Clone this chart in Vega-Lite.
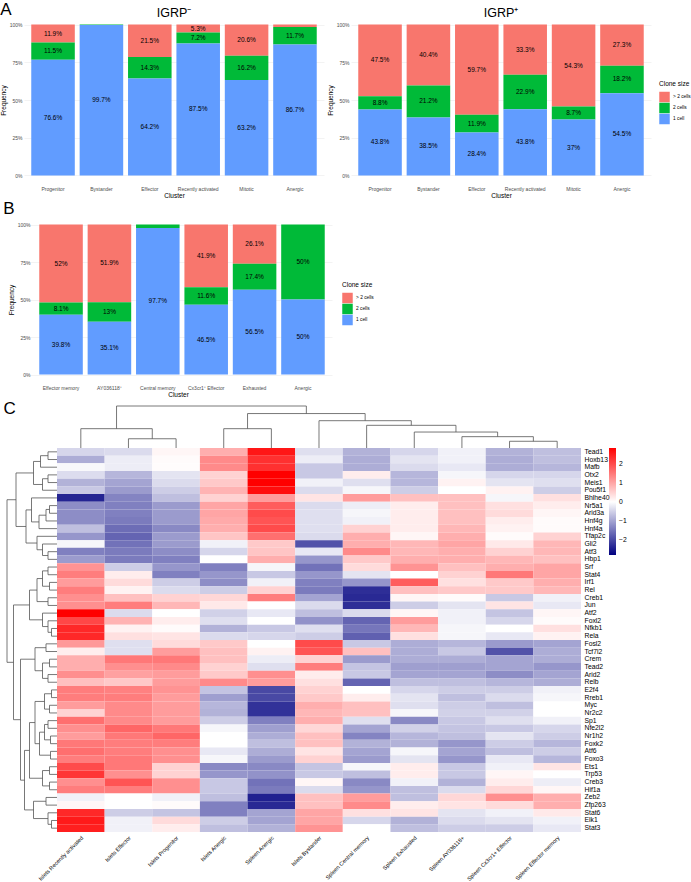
{
"$schema": "https://vega.github.io/schema/vega-lite/v6.json",
"padding": {"left": 0, "top": 0, "right": 2, "bottom": 0},
"config": {"font": "Liberation Sans", "view": {"stroke": null}, "title": {"fontWeight": "normal", "color": "#000"}, "axis": {"labelColor": "#000", "titleColor": "#000"}, "legend": {"labelColor": "#000", "titleColor": "#000"}},
"datasets": {
"clones": [
{"panel":"IGRP-","cluster":"Progenitor","size":"> 2 cells","freq":0.119},
{"panel":"IGRP-","cluster":"Progenitor","size":"2 cells","freq":0.115},
{"panel":"IGRP-","cluster":"Progenitor","size":"1 cell","freq":0.766},
{"panel":"IGRP-","cluster":"Bystander","size":"> 2 cells","freq":0.0},
{"panel":"IGRP-","cluster":"Bystander","size":"2 cells","freq":0.003},
{"panel":"IGRP-","cluster":"Bystander","size":"1 cell","freq":0.997},
{"panel":"IGRP-","cluster":"Effector","size":"> 2 cells","freq":0.215},
{"panel":"IGRP-","cluster":"Effector","size":"2 cells","freq":0.143},
{"panel":"IGRP-","cluster":"Effector","size":"1 cell","freq":0.642},
{"panel":"IGRP-","cluster":"Recently activated","size":"> 2 cells","freq":0.053},
{"panel":"IGRP-","cluster":"Recently activated","size":"2 cells","freq":0.072},
{"panel":"IGRP-","cluster":"Recently activated","size":"1 cell","freq":0.875},
{"panel":"IGRP-","cluster":"Mitotic","size":"> 2 cells","freq":0.206},
{"panel":"IGRP-","cluster":"Mitotic","size":"2 cells","freq":0.162},
{"panel":"IGRP-","cluster":"Mitotic","size":"1 cell","freq":0.632},
{"panel":"IGRP-","cluster":"Anergic","size":"> 2 cells","freq":0.016},
{"panel":"IGRP-","cluster":"Anergic","size":"2 cells","freq":0.117},
{"panel":"IGRP-","cluster":"Anergic","size":"1 cell","freq":0.867},
{"panel":"IGRP+","cluster":"Progenitor","size":"> 2 cells","freq":0.475},
{"panel":"IGRP+","cluster":"Progenitor","size":"2 cells","freq":0.088},
{"panel":"IGRP+","cluster":"Progenitor","size":"1 cell","freq":0.438},
{"panel":"IGRP+","cluster":"Bystander","size":"> 2 cells","freq":0.404},
{"panel":"IGRP+","cluster":"Bystander","size":"2 cells","freq":0.212},
{"panel":"IGRP+","cluster":"Bystander","size":"1 cell","freq":0.385},
{"panel":"IGRP+","cluster":"Effector","size":"> 2 cells","freq":0.597},
{"panel":"IGRP+","cluster":"Effector","size":"2 cells","freq":0.119},
{"panel":"IGRP+","cluster":"Effector","size":"1 cell","freq":0.284},
{"panel":"IGRP+","cluster":"Recently activated","size":"> 2 cells","freq":0.333},
{"panel":"IGRP+","cluster":"Recently activated","size":"2 cells","freq":0.229},
{"panel":"IGRP+","cluster":"Recently activated","size":"1 cell","freq":0.438},
{"panel":"IGRP+","cluster":"Mitotic","size":"> 2 cells","freq":0.543},
{"panel":"IGRP+","cluster":"Mitotic","size":"2 cells","freq":0.087},
{"panel":"IGRP+","cluster":"Mitotic","size":"1 cell","freq":0.37},
{"panel":"IGRP+","cluster":"Anergic","size":"> 2 cells","freq":0.273},
{"panel":"IGRP+","cluster":"Anergic","size":"2 cells","freq":0.182},
{"panel":"IGRP+","cluster":"Anergic","size":"1 cell","freq":0.545},
{"panel":"B","cluster":"Effector memory","size":"> 2 cells","freq":0.52},
{"panel":"B","cluster":"Effector memory","size":"2 cells","freq":0.081},
{"panel":"B","cluster":"Effector memory","size":"1 cell","freq":0.398},
{"panel":"B","cluster":"AY036118⁺","size":"> 2 cells","freq":0.519},
{"panel":"B","cluster":"AY036118⁺","size":"2 cells","freq":0.13},
{"panel":"B","cluster":"AY036118⁺","size":"1 cell","freq":0.351},
{"panel":"B","cluster":"Central memory","size":"> 2 cells","freq":0.0},
{"panel":"B","cluster":"Central memory","size":"2 cells","freq":0.023},
{"panel":"B","cluster":"Central memory","size":"1 cell","freq":0.977},
{"panel":"B","cluster":"Cx3cr1⁺ Effector","size":"> 2 cells","freq":0.419},
{"panel":"B","cluster":"Cx3cr1⁺ Effector","size":"2 cells","freq":0.116},
{"panel":"B","cluster":"Cx3cr1⁺ Effector","size":"1 cell","freq":0.465},
{"panel":"B","cluster":"Exhausted","size":"> 2 cells","freq":0.261},
{"panel":"B","cluster":"Exhausted","size":"2 cells","freq":0.174},
{"panel":"B","cluster":"Exhausted","size":"1 cell","freq":0.565},
{"panel":"B","cluster":"Anergic","size":"> 2 cells","freq":0.0},
{"panel":"B","cluster":"Anergic","size":"2 cells","freq":0.5},
{"panel":"B","cluster":"Anergic","size":"1 cell","freq":0.5}
],
"heat": [
{"g":"Tead1","Islets Recently activated":-0.45,"Islets Effector":-0.4,"Islets Progenitor":0.1,"Islets Anergic":0.9,"Spleen Anergic":2.6,"Islets Bystander":-0.35,"Spleen Central memory":-0.85,"Spleen Exhausted":-0.45,"Spleen AY036118+":-0.15,"Spleen Cx3cr1+ Effector":-0.85,"Spleen Effector memory":-0.7},
{"g":"Hoxb13","Islets Recently activated":-0.9,"Islets Effector":-0.2,"Islets Progenitor":0.05,"Islets Anergic":1.3,"Spleen Anergic":2.3,"Islets Bystander":-0.2,"Spleen Central memory":-0.9,"Spleen Exhausted":-0.3,"Spleen AY036118+":-0.15,"Spleen Cx3cr1+ Effector":-0.9,"Spleen Effector memory":-0.7},
{"g":"Mafb","Islets Recently activated":-0.08,"Islets Effector":-0.2,"Islets Progenitor":0.03,"Islets Anergic":1.3,"Spleen Anergic":2.3,"Islets Bystander":-0.6,"Spleen Central memory":-0.9,"Spleen Exhausted":-0.4,"Spleen AY036118+":-0.25,"Spleen Cx3cr1+ Effector":-0.9,"Spleen Effector memory":-0.8},
{"g":"Otx2","Islets Recently activated":-0.38,"Islets Effector":-0.8,"Islets Progenitor":-0.3,"Islets Anergic":0.5,"Spleen Anergic":2.85,"Islets Bystander":-0.6,"Spleen Central memory":0.2,"Spleen Exhausted":-0.8,"Spleen AY036118+":-0.1,"Spleen Cx3cr1+ Effector":-0.45,"Spleen Effector memory":-0.45},
{"g":"Meis1","Islets Recently activated":-0.85,"Islets Effector":-1.0,"Islets Progenitor":-0.4,"Islets Anergic":0.6,"Spleen Anergic":2.85,"Islets Bystander":-0.15,"Spleen Central memory":-0.35,"Spleen Exhausted":-0.8,"Spleen AY036118+":0.15,"Spleen Cx3cr1+ Effector":-0.3,"Spleen Effector memory":-0.35},
{"g":"Pou5f1","Islets Recently activated":-0.6,"Islets Effector":-1.1,"Islets Progenitor":-0.55,"Islets Anergic":0.85,"Spleen Anergic":2.7,"Islets Bystander":-0.4,"Spleen Central memory":-0.1,"Spleen Exhausted":-0.55,"Spleen AY036118+":0.0,"Spleen Cx3cr1+ Effector":0.15,"Spleen Effector memory":-0.55},
{"g":"Bhlhe40","Islets Recently activated":-2.4,"Islets Effector":-1.35,"Islets Progenitor":-0.7,"Islets Anergic":0.5,"Spleen Anergic":1.1,"Islets Bystander":0.3,"Spleen Central memory":1.1,"Spleen Exhausted":0.7,"Spleen AY036118+":0.7,"Spleen Cx3cr1+ Effector":-0.1,"Spleen Effector memory":0.35},
{"g":"Nr5a1","Islets Recently activated":-1.25,"Islets Effector":-1.4,"Islets Progenitor":-1.1,"Islets Anergic":1.0,"Spleen Anergic":1.8,"Islets Bystander":-0.4,"Spleen Central memory":-0.2,"Spleen Exhausted":0.2,"Spleen AY036118+":0.7,"Spleen Cx3cr1+ Effector":0.35,"Spleen Effector memory":0.2},
{"g":"Arid3a","Islets Recently activated":-1.25,"Islets Effector":-1.4,"Islets Progenitor":-1.1,"Islets Anergic":1.0,"Spleen Anergic":2.0,"Islets Bystander":-0.35,"Spleen Central memory":-0.1,"Spleen Exhausted":0.2,"Spleen AY036118+":0.7,"Spleen Cx3cr1+ Effector":0.4,"Spleen Effector memory":0.1},
{"g":"Hnf4g","Islets Recently activated":-1.25,"Islets Effector":-1.45,"Islets Progenitor":-1.1,"Islets Anergic":0.95,"Spleen Anergic":1.9,"Islets Bystander":-0.35,"Spleen Central memory":-0.15,"Spleen Exhausted":0.2,"Spleen AY036118+":0.7,"Spleen Cx3cr1+ Effector":0.2,"Spleen Effector memory":0.05},
{"g":"Hnf4a","Islets Recently activated":-0.7,"Islets Effector":-1.6,"Islets Progenitor":-1.3,"Islets Anergic":0.9,"Spleen Anergic":2.0,"Islets Bystander":-0.35,"Spleen Central memory":0.5,"Spleen Exhausted":0.2,"Spleen AY036118+":0.8,"Spleen Cx3cr1+ Effector":0.15,"Spleen Effector memory":0.05},
{"g":"Tfap2c","Islets Recently activated":-1.15,"Islets Effector":-1.7,"Islets Progenitor":-1.1,"Islets Anergic":0.65,"Spleen Anergic":1.6,"Islets Bystander":-0.4,"Spleen Central memory":0.9,"Spleen Exhausted":0.1,"Spleen AY036118+":0.9,"Spleen Cx3cr1+ Effector":0.05,"Spleen Effector memory":0.5},
{"g":"Gli2","Islets Recently activated":-0.1,"Islets Effector":-1.55,"Islets Progenitor":-1.1,"Islets Anergic":-0.15,"Spleen Anergic":0.6,"Islets Bystander":-1.9,"Spleen Central memory":0.9,"Spleen Exhausted":0.8,"Spleen AY036118+":1.0,"Spleen Cx3cr1+ Effector":0.25,"Spleen Effector memory":0.8},
{"g":"Atf3","Islets Recently activated":-1.4,"Islets Effector":-1.45,"Islets Progenitor":-1.25,"Islets Anergic":-0.45,"Spleen Anergic":0.65,"Islets Bystander":-0.25,"Spleen Central memory":1.3,"Spleen Exhausted":0.8,"Spleen AY036118+":0.9,"Spleen Cx3cr1+ Effector":0.5,"Spleen Effector memory":0.8},
{"g":"Hbp1","Islets Recently activated":-1.1,"Islets Effector":-1.45,"Islets Progenitor":-1.4,"Islets Anergic":0.0,"Spleen Anergic":0.9,"Islets Bystander":-1.15,"Spleen Central memory":0.6,"Spleen Exhausted":0.9,"Spleen AY036118+":0.9,"Spleen Cx3cr1+ Effector":0.8,"Spleen Effector memory":0.7},
{"g":"Srf","Islets Recently activated":1.2,"Islets Effector":-0.55,"Islets Progenitor":-1.15,"Islets Anergic":-1.4,"Spleen Anergic":-0.1,"Islets Bystander":-1.55,"Spleen Central memory":0.4,"Spleen Exhausted":1.2,"Spleen AY036118+":0.7,"Spleen Cx3cr1+ Effector":0.9,"Spleen Effector memory":1.0},
{"g":"Stat4","Islets Recently activated":1.45,"Islets Effector":0.2,"Islets Progenitor":-1.4,"Islets Anergic":-1.15,"Spleen Anergic":-0.6,"Islets Bystander":-1.15,"Spleen Central memory":-0.3,"Spleen Exhausted":0.0,"Spleen AY036118+":0.5,"Spleen Cx3cr1+ Effector":1.5,"Spleen Effector memory":1.0},
{"g":"Irf1","Islets Recently activated":1.1,"Islets Effector":0.4,"Islets Progenitor":-0.55,"Islets Anergic":-1.25,"Spleen Anergic":-0.15,"Islets Bystander":-1.4,"Spleen Central memory":-1.15,"Spleen Exhausted":1.8,"Spleen AY036118+":0.35,"Spleen Cx3cr1+ Effector":0.6,"Spleen Effector memory":0.9},
{"g":"Rel","Islets Recently activated":1.45,"Islets Effector":0.15,"Islets Progenitor":-0.4,"Islets Anergic":-0.55,"Spleen Anergic":0.5,"Islets Bystander":-1.45,"Spleen Central memory":-2.3,"Spleen Exhausted":0.7,"Spleen AY036118+":0.6,"Spleen Cx3cr1+ Effector":0.6,"Spleen Effector memory":0.8},
{"g":"Creb1","Islets Recently activated":1.25,"Islets Effector":0.7,"Islets Progenitor":0.5,"Islets Anergic":0.45,"Spleen Anergic":1.45,"Islets Bystander":-1.0,"Spleen Central memory":-2.35,"Spleen Exhausted":0.1,"Spleen AY036118+":0.05,"Spleen Cx3cr1+ Effector":-0.6,"Spleen Effector memory":-0.15},
{"g":"Jun","Islets Recently activated":1.25,"Islets Effector":1.45,"Islets Progenitor":0.8,"Islets Anergic":0.25,"Spleen Anergic":0.0,"Islets Bystander":-0.4,"Spleen Central memory":-2.3,"Spleen Exhausted":-0.55,"Spleen AY036118+":-0.3,"Spleen Cx3cr1+ Effector":0.3,"Spleen Effector memory":-0.25},
{"g":"Atf2","Islets Recently activated":2.85,"Islets Effector":-0.4,"Islets Progenitor":0.0,"Islets Anergic":-0.5,"Spleen Anergic":-0.25,"Islets Bystander":-0.7,"Spleen Central memory":-0.4,"Spleen Exhausted":0.1,"Spleen AY036118+":-0.15,"Spleen Cx3cr1+ Effector":-0.65,"Spleen Effector memory":0.1},
{"g":"Foxl2","Islets Recently activated":2.05,"Islets Effector":0.85,"Islets Progenitor":0.2,"Islets Anergic":-0.35,"Spleen Anergic":0.0,"Islets Bystander":-1.2,"Spleen Central memory":-1.7,"Spleen Exhausted":1.1,"Spleen AY036118+":-0.15,"Spleen Cx3cr1+ Effector":-0.45,"Spleen Effector memory":0.05},
{"g":"Nfkb1","Islets Recently activated":2.4,"Islets Effector":0.15,"Islets Progenitor":0.05,"Islets Anergic":-0.85,"Spleen Anergic":-0.6,"Islets Bystander":-0.35,"Spleen Central memory":-1.5,"Spleen Exhausted":0.8,"Spleen AY036118+":-0.1,"Spleen Cx3cr1+ Effector":0.0,"Spleen Effector memory":0.35},
{"g":"Rela","Islets Recently activated":2.4,"Islets Effector":0.35,"Islets Progenitor":0.3,"Islets Anergic":-0.4,"Spleen Anergic":-0.45,"Islets Bystander":-0.55,"Spleen Central memory":-1.75,"Spleen Exhausted":0.35,"Spleen AY036118+":-0.1,"Spleen Cx3cr1+ Effector":-0.25,"Spleen Effector memory":0.15},
{"g":"Fosl2","Islets Recently activated":1.15,"Islets Effector":-0.35,"Islets Progenitor":0.4,"Islets Anergic":0.6,"Spleen Anergic":0.0,"Islets Bystander":2.0,"Spleen Central memory":-0.6,"Spleen Exhausted":-0.9,"Spleen AY036118+":-0.8,"Spleen Cx3cr1+ Effector":-1.1,"Spleen Effector memory":-1.0},
{"g":"Tcf7l2","Islets Recently activated":0.2,"Islets Effector":-0.35,"Islets Progenitor":1.1,"Islets Anergic":0.7,"Spleen Anergic":0.15,"Islets Bystander":1.9,"Spleen Central memory":0.7,"Spleen Exhausted":-0.9,"Spleen AY036118+":-0.6,"Spleen Cx3cr1+ Effector":-1.9,"Spleen Effector memory":-0.9},
{"g":"Crem","Islets Recently activated":0.9,"Islets Effector":1.5,"Islets Progenitor":1.5,"Islets Anergic":0.7,"Spleen Anergic":-0.2,"Islets Bystander":0.5,"Spleen Central memory":-1.1,"Spleen Exhausted":-0.9,"Spleen AY036118+":-0.9,"Spleen Cx3cr1+ Effector":-1.0,"Spleen Effector memory":-0.9},
{"g":"Tead2","Islets Recently activated":0.9,"Islets Effector":1.25,"Islets Progenitor":1.3,"Islets Anergic":0.5,"Spleen Anergic":-0.35,"Islets Bystander":1.45,"Spleen Central memory":-0.65,"Spleen Exhausted":-1.05,"Spleen AY036118+":-1.05,"Spleen Cx3cr1+ Effector":-1.0,"Spleen Effector memory":-1.15},
{"g":"Arid2","Islets Recently activated":1.25,"Islets Effector":1.05,"Islets Progenitor":1.1,"Islets Anergic":0.6,"Spleen Anergic":1.25,"Islets Bystander":0.2,"Spleen Central memory":-0.6,"Spleen Exhausted":-1.0,"Spleen AY036118+":-1.0,"Spleen Cx3cr1+ Effector":-1.25,"Spleen Effector memory":-1.0},
{"g":"Relb","Islets Recently activated":0.7,"Islets Effector":0.6,"Islets Progenitor":1.1,"Islets Anergic":1.3,"Spleen Anergic":1.1,"Islets Bystander":0.35,"Spleen Central memory":-1.7,"Spleen Exhausted":-0.7,"Spleen AY036118+":-0.7,"Spleen Cx3cr1+ Effector":-0.8,"Spleen Effector memory":-0.9},
{"g":"E2f4","Islets Recently activated":1.45,"Islets Effector":1.4,"Islets Progenitor":1.2,"Islets Anergic":-0.65,"Spleen Anergic":-2.0,"Islets Bystander":0.5,"Spleen Central memory":0.0,"Spleen Exhausted":-0.45,"Spleen AY036118+":-0.55,"Spleen Cx3cr1+ Effector":-0.55,"Spleen Effector memory":-0.15},
{"g":"Rreb1","Islets Recently activated":1.45,"Islets Effector":1.45,"Islets Progenitor":1.1,"Islets Anergic":-1.05,"Spleen Anergic":-2.0,"Islets Bystander":0.6,"Spleen Central memory":0.2,"Spleen Exhausted":-0.3,"Spleen AY036118+":-0.7,"Spleen Cx3cr1+ Effector":-0.4,"Spleen Effector memory":-0.1},
{"g":"Myc","Islets Recently activated":1.1,"Islets Effector":1.3,"Islets Progenitor":1.1,"Islets Anergic":-0.8,"Spleen Anergic":-2.25,"Islets Bystander":0.9,"Spleen Central memory":0.7,"Spleen Exhausted":-0.35,"Spleen AY036118+":-0.55,"Spleen Cx3cr1+ Effector":-0.7,"Spleen Effector memory":0.0},
{"g":"Nr2c2","Islets Recently activated":0.5,"Islets Effector":1.3,"Islets Progenitor":1.1,"Islets Anergic":-0.85,"Spleen Anergic":-2.25,"Islets Bystander":0.8,"Spleen Central memory":0.7,"Spleen Exhausted":-0.1,"Spleen AY036118+":-0.5,"Spleen Cx3cr1+ Effector":-0.5,"Spleen Effector memory":0.0},
{"g":"Sp1","Islets Recently activated":1.6,"Islets Effector":1.3,"Islets Progenitor":1.1,"Islets Anergic":-0.55,"Spleen Anergic":-1.4,"Islets Bystander":0.9,"Spleen Central memory":-0.35,"Spleen Exhausted":-1.3,"Spleen AY036118+":-0.6,"Spleen Cx3cr1+ Effector":-0.35,"Spleen Effector memory":-0.15},
{"g":"Nfe2l2","Islets Recently activated":1.25,"Islets Effector":1.7,"Islets Progenitor":1.5,"Islets Anergic":-0.1,"Spleen Anergic":-1.05,"Islets Bystander":0.45,"Spleen Central memory":-1.0,"Spleen Exhausted":-0.5,"Spleen AY036118+":-0.65,"Spleen Cx3cr1+ Effector":-0.6,"Spleen Effector memory":-0.45},
{"g":"Nr1h2","Islets Recently activated":1.1,"Islets Effector":1.5,"Islets Progenitor":1.7,"Islets Anergic":0.0,"Spleen Anergic":-0.9,"Islets Bystander":0.7,"Spleen Central memory":-1.35,"Spleen Exhausted":-0.8,"Spleen AY036118+":-0.7,"Spleen Cx3cr1+ Effector":-0.3,"Spleen Effector memory":-0.55},
{"g":"Foxk2","Islets Recently activated":1.5,"Islets Effector":1.45,"Islets Progenitor":1.45,"Islets Anergic":0.0,"Spleen Anergic":-0.7,"Islets Bystander":0.7,"Spleen Central memory":-0.85,"Spleen Exhausted":-0.85,"Spleen AY036118+":-1.15,"Spleen Cx3cr1+ Effector":-0.55,"Spleen Effector memory":-0.8},
{"g":"Atf6","Islets Recently activated":1.6,"Islets Effector":1.45,"Islets Progenitor":1.25,"Islets Anergic":-0.25,"Spleen Anergic":-0.9,"Islets Bystander":0.3,"Spleen Central memory":-1.0,"Spleen Exhausted":-0.1,"Spleen AY036118+":-1.0,"Spleen Cx3cr1+ Effector":-0.7,"Spleen Effector memory":-0.55},
{"g":"Foxo3","Islets Recently activated":1.45,"Islets Effector":1.5,"Islets Progenitor":1.25,"Islets Anergic":-0.1,"Spleen Anergic":-1.1,"Islets Bystander":0.5,"Spleen Central memory":-1.1,"Spleen Exhausted":-0.3,"Spleen AY036118+":-1.15,"Spleen Cx3cr1+ Effector":-0.25,"Spleen Effector memory":-0.8},
{"g":"Ets1","Islets Recently activated":2.0,"Islets Effector":1.5,"Islets Progenitor":0.5,"Islets Anergic":-1.3,"Spleen Anergic":-1.3,"Islets Bystander":-0.65,"Spleen Central memory":-0.1,"Spleen Exhausted":0.2,"Spleen AY036118+":-0.6,"Spleen Cx3cr1+ Effector":-0.15,"Spleen Effector memory":0.3},
{"g":"Trp53","Islets Recently activated":2.25,"Islets Effector":1.25,"Islets Progenitor":0.5,"Islets Anergic":-1.15,"Spleen Anergic":-1.2,"Islets Bystander":-0.6,"Spleen Central memory":-0.7,"Spleen Exhausted":0.2,"Spleen AY036118+":-0.6,"Spleen Cx3cr1+ Effector":0.1,"Spleen Effector memory":0.0},
{"g":"Creb3","Islets Recently activated":1.25,"Islets Effector":1.9,"Islets Progenitor":1.25,"Islets Anergic":-0.6,"Spleen Anergic":-1.55,"Islets Bystander":0.1,"Spleen Central memory":-1.3,"Spleen Exhausted":-0.15,"Spleen AY036118+":-0.85,"Spleen Cx3cr1+ Effector":0.2,"Spleen Effector memory":-0.2},
{"g":"Hif1a","Islets Recently activated":1.45,"Islets Effector":1.45,"Islets Progenitor":1.25,"Islets Anergic":-0.6,"Spleen Anergic":-1.45,"Islets Bystander":-0.4,"Spleen Central memory":-1.15,"Spleen Exhausted":-0.7,"Spleen AY036118+":-0.4,"Spleen Cx3cr1+ Effector":0.45,"Spleen Effector memory":0.1},
{"g":"Zeb2","Islets Recently activated":-0.15,"Islets Effector":0.0,"Islets Progenitor":-0.15,"Islets Anergic":-0.7,"Spleen Anergic":-2.45,"Islets Bystander":0.7,"Spleen Central memory":1.1,"Spleen Exhausted":-0.7,"Spleen AY036118+":0.45,"Spleen Cx3cr1+ Effector":1.25,"Spleen Effector memory":0.9},
{"g":"Zfp263","Islets Recently activated":0.1,"Islets Effector":0.0,"Islets Progenitor":0.05,"Islets Anergic":-1.4,"Spleen Anergic":-2.35,"Islets Bystander":0.7,"Spleen Central memory":1.3,"Spleen Exhausted":0.2,"Spleen AY036118+":0.3,"Spleen Cx3cr1+ Effector":0.4,"Spleen Effector memory":0.9},
{"g":"Stat6","Islets Recently activated":2.4,"Islets Effector":-0.55,"Islets Progenitor":-0.65,"Islets Anergic":-1.4,"Spleen Anergic":-1.0,"Islets Bystander":1.0,"Spleen Central memory":0.35,"Spleen Exhausted":0.3,"Spleen AY036118+":-0.3,"Spleen Cx3cr1+ Effector":-0.15,"Spleen Effector memory":0.25},
{"g":"Elk1","Islets Recently activated":2.55,"Islets Effector":-0.15,"Islets Progenitor":0.4,"Islets Anergic":-0.55,"Spleen Anergic":-1.0,"Islets Bystander":1.0,"Spleen Central memory":-0.45,"Spleen Exhausted":-0.85,"Spleen AY036118+":-0.4,"Spleen Cx3cr1+ Effector":-0.3,"Spleen Effector memory":-0.15},
{"g":"Stat3","Islets Recently activated":2.5,"Islets Effector":-0.15,"Islets Progenitor":0.2,"Islets Anergic":-0.7,"Spleen Anergic":-0.85,"Islets Bystander":1.2,"Spleen Central memory":0.0,"Spleen Exhausted":-0.7,"Spleen AY036118+":-0.55,"Spleen Cx3cr1+ Effector":-0.55,"Spleen Effector memory":-0.25}
],
"coldend": [
{"xl":1,"xr":2,"h":0.22,"hl":0,"hr":0},
{"xl":0,"xr":1.5,"h":0.46,"hl":0,"hr":0.22},
{"xl":3,"xr":4,"h":0.46,"hl":0,"hr":0},
{"xl":9,"xr":10,"h":0.16,"hl":0,"hr":0},
{"xl":8,"xr":9.5,"h":0.27,"hl":0,"hr":0.16},
{"xl":7,"xr":8.75,"h":0.38,"hl":0,"hr":0.27},
{"xl":6,"xr":7.875,"h":0.54,"hl":0,"hr":0.38},
{"xl":5,"xr":6.9375,"h":0.65,"hl":0,"hr":0.54},
{"xl":3.5,"xr":5.96875,"h":0.82,"hl":0.46,"hr":0.65},
{"xl":0.75,"xr":4.734375,"h":1.0,"hl":0.46,"hr":0.82}
],
"rowdend": [
{"yl":0,"yr":1,"h":0.18,"hl":0,"hr":0},
{"yl":0.5,"yr":2,"h":0.33,"hl":0.18,"hr":0},
{"yl":3,"yr":4,"h":0.18,"hl":0,"hr":0},
{"yl":3.5,"yr":5,"h":0.29,"hl":0.18,"hr":0},
{"yl":1.25,"yr":4.25,"h":0.47,"hl":0.33,"hr":0.29},
{"yl":7,"yr":8,"h":0.15,"hl":0,"hr":0},
{"yl":7.5,"yr":9,"h":0.22,"hl":0.15,"hr":0},
{"yl":8.25,"yr":10,"h":0.36,"hl":0.22,"hr":0},
{"yl":6,"yr":9.125,"h":0.51,"hl":0,"hr":0.36},
{"yl":13,"yr":14,"h":0.18,"hl":0,"hr":0},
{"yl":12,"yr":13.5,"h":0.29,"hl":0,"hr":0.18},
{"yl":11,"yr":12.75,"h":0.40,"hl":0,"hr":0.29},
{"yl":7.5625,"yr":11.875,"h":0.62,"hl":0.51,"hr":0.40},
{"yl":2.75,"yr":9.71875,"h":0.82,"hl":0.47,"hr":0.62},
{"yl":15,"yr":16,"h":0.18,"hl":0,"hr":0},
{"yl":17,"yr":18,"h":0.15,"hl":0,"hr":0},
{"yl":15.5,"yr":17.5,"h":0.29,"hl":0.18,"hr":0.15},
{"yl":19,"yr":20,"h":0.18,"hl":0,"hr":0},
{"yl":16.5,"yr":19.5,"h":0.40,"hl":0.29,"hr":0.18},
{"yl":23,"yr":24,"h":0.11,"hl":0,"hr":0},
{"yl":22,"yr":23.5,"h":0.18,"hl":0,"hr":0.11},
{"yl":21,"yr":22.75,"h":0.29,"hl":0,"hr":0.18},
{"yl":18,"yr":21.875,"h":0.55,"hl":0.40,"hr":0.29},
{"yl":25,"yr":26,"h":0.22,"hl":0,"hr":0},
{"yl":27,"yr":28,"h":0.15,"hl":0,"hr":0},
{"yl":29,"yr":30,"h":0.18,"hl":0,"hr":0},
{"yl":27.5,"yr":29.5,"h":0.29,"hl":0.15,"hr":0.18},
{"yl":25.5,"yr":28.5,"h":0.44,"hl":0.22,"hr":0.29},
{"yl":31,"yr":32,"h":0.11,"hl":0,"hr":0},
{"yl":33,"yr":34,"h":0.15,"hl":0,"hr":0},
{"yl":31.5,"yr":33.5,"h":0.25,"hl":0.11,"hr":0.15},
{"yl":35,"yr":36,"h":0.18,"hl":0,"hr":0},
{"yl":37,"yr":38,"h":0.13,"hl":0,"hr":0},
{"yl":35.5,"yr":37.5,"h":0.25,"hl":0.18,"hr":0.13},
{"yl":39,"yr":40,"h":0.13,"hl":0,"hr":0},
{"yl":36.5,"yr":39.5,"h":0.35,"hl":0.25,"hr":0.13},
{"yl":32.5,"yr":38,"h":0.44,"hl":0.25,"hr":0.35},
{"yl":41,"yr":42,"h":0.15,"hl":0,"hr":0},
{"yl":43,"yr":44,"h":0.15,"hl":0,"hr":0},
{"yl":41.5,"yr":43.5,"h":0.29,"hl":0.15,"hr":0.15},
{"yl":35.25,"yr":42.5,"h":0.55,"hl":0.44,"hr":0.29},
{"yl":45,"yr":46,"h":0.22,"hl":0,"hr":0},
{"yl":48,"yr":49,"h":0.11,"hl":0,"hr":0},
{"yl":47,"yr":48.5,"h":0.18,"hl":0,"hr":0.11},
{"yl":45.5,"yr":47.75,"h":0.47,"hl":0.22,"hr":0.18},
{"yl":38.875,"yr":46.625,"h":0.65,"hl":0.55,"hr":0.47},
{"yl":27,"yr":42.75,"h":0.73,"hl":0.44,"hr":0.65},
{"yl":19.9375,"yr":34.875,"h":0.87,"hl":0.55,"hr":0.73},
{"yl":6.234375,"yr":27.40625,"h":1.0,"hl":0.82,"hr":0.87}
]
},
"columns": 1,
"resolve": {"scale": {"color": "independent", "x": "independent", "y": "independent"}, "legend": {"color": "independent"}},
"spacing": 1,
"concat": [
{
"title": {"text": "A", "anchor": "start", "frame": "bounds", "fontSize": 17, "offset": -12},
"resolve": {"scale": {"color": "independent", "x": "independent", "y": "independent"}, "legend": {"color": "independent"}},
"spacing": 3,
"hconcat": [
{
"width": 300, "height": 166,
"title": {"text": "IGRP⁻", "fontSize": 12.5, "anchor": "middle", "offset": -2},
"data": {"name": "clones"},
"transform": [
{"filter": "datum.panel === 'IGRP-'"},
{"stack": "freq", "groupby": ["cluster"], "sort": [{"field": "size", "order": "ascending"}], "offset": "normalize", "as": ["y0", "y1"]},
{"calculate": "(datum.y0 + datum.y1) / 2", "as": "ymid"}
],
"encoding": {
"x": {"field": "cluster", "type": "nominal", "sort": ["Progenitor","Bystander","Effector","Recently activated","Mitotic","Anergic"], "scale": {"paddingInner": 0.1, "paddingOuter": 0.15},
"axis": {"title": "Cluster", "labelAngle": 0, "labelFontSize": 5, "labelColor": "#4d4d4d", "ticks": false, "domain": false, "labelPadding": 3, "titleFontSize": 6.5, "titleFontWeight": "normal", "titlePadding": 1, "labelOverlap": false}}
},
"layer": [
{"mark": {"type": "bar"},
"encoding": {
"y": {"field": "y0", "type": "quantitative", "scale": {"domain": [-0.05, 1.05], "nice": false, "zero": false},
"axis": {"title": "Frequency", "values": [0, 0.25, 0.5, 0.75, 1], "format": ".0%", "labelFontSize": 5, "labelColor": "#4d4d4d", "ticks": false, "domain": false, "gridColor": "#ebebeb", "gridWidth": 0.6, "labelPadding": 2, "titleFontSize": 6.5, "titleFontWeight": "normal", "titlePadding": 3}},
"y2": {"field": "y1"},
"color": {"field": "size", "type": "nominal", "scale": {"domain": ["> 2 cells","2 cells","1 cell"], "range": ["#F8766D","#00BA38","#619CFF"]}, "legend": null}
}},
{"transform": [{"filter": "datum.freq >= 0.03"}],
"mark": {"type": "text", "fontSize": 6.5, "color": "#000"},
"encoding": {
"y": {"field": "ymid", "type": "quantitative", "scale": {"domain": [-0.05, 1.05], "nice": false, "zero": false}},
"text": {"field": "freq", "type": "quantitative", "format": ".1~%"}
}}
]
},
{
"width": 300, "height": 166,
"title": {"text": "IGRP⁺", "fontSize": 12.5, "anchor": "middle", "offset": -2},
"data": {"name": "clones"},
"transform": [
{"filter": "datum.panel === 'IGRP+'"},
{"stack": "freq", "groupby": ["cluster"], "sort": [{"field": "size", "order": "ascending"}], "offset": "normalize", "as": ["y0", "y1"]},
{"calculate": "(datum.y0 + datum.y1) / 2", "as": "ymid"}
],
"encoding": {
"x": {"field": "cluster", "type": "nominal", "sort": ["Progenitor","Bystander","Effector","Recently activated","Mitotic","Anergic"], "scale": {"paddingInner": 0.1, "paddingOuter": 0.15},
"axis": {"title": "Cluster", "labelAngle": 0, "labelFontSize": 5, "labelColor": "#4d4d4d", "ticks": false, "domain": false, "labelPadding": 3, "titleFontSize": 6.5, "titleFontWeight": "normal", "titlePadding": 1, "labelOverlap": false}}
},
"layer": [
{"mark": {"type": "bar"},
"encoding": {
"y": {"field": "y0", "type": "quantitative", "scale": {"domain": [-0.05, 1.05], "nice": false, "zero": false},
"axis": {"title": "Frequency", "values": [0, 0.25, 0.5, 0.75, 1], "format": ".0%", "labelFontSize": 5, "labelColor": "#4d4d4d", "ticks": false, "domain": false, "gridColor": "#ebebeb", "gridWidth": 0.6, "labelPadding": 2, "titleFontSize": 6.5, "titleFontWeight": "normal", "titlePadding": 3}},
"y2": {"field": "y1"},
"color": {"field": "size", "type": "nominal", "scale": {"domain": ["> 2 cells","2 cells","1 cell"], "range": ["#F8766D","#00BA38","#619CFF"]},
"legend": {"orient": "none", "legendX": 308, "legendY": 64, "title": "Clone size", "titleFontSize": 6.5, "titleFontWeight": "normal", "titleColor": "#000", "labelFontSize": 4.8, "labelColor": "#000", "symbolType": "square", "symbolSize": 110, "symbolStrokeWidth": 0, "symbolOpacity": 1, "rowPadding": 0, "titlePadding": 4, "labelOffset": 3}}
}},
{"transform": [{"filter": "datum.freq >= 0.03"}],
"mark": {"type": "text", "fontSize": 6.5, "color": "#000"},
"encoding": {
"y": {"field": "ymid", "type": "quantitative", "scale": {"domain": [-0.05, 1.05], "nice": false, "zero": false}},
"text": {"field": "freq", "type": "quantitative", "format": ".1~%"}
}}
]
}
]
},
{
"width": 308, "height": 165,
"title": {"text": "B", "anchor": "start", "frame": "bounds", "fontSize": 17, "dx": -5, "offset": -1},
"data": {"name": "clones"},
"transform": [
{"filter": "datum.panel === 'B'"},
{"stack": "freq", "groupby": ["cluster"], "sort": [{"field": "size", "order": "ascending"}], "offset": "normalize", "as": ["y0", "y1"]},
{"calculate": "(datum.y0 + datum.y1) / 2", "as": "ymid"}
],
"encoding": {
"x": {"field": "cluster", "type": "nominal", "sort": ["Effector memory","AY036118⁺","Central memory","Cx3cr1⁺ Effector","Exhausted","Anergic"], "scale": {"paddingInner": 0.1, "paddingOuter": 0.2327, "align": 0.6776},
"axis": {"title": "Cluster", "labelAngle": 0, "labelFontSize": 5, "labelColor": "#4d4d4d", "ticks": false, "domain": false, "labelPadding": 3, "titleFontSize": 6.5, "titleFontWeight": "normal", "titlePadding": 1, "labelOverlap": false}}
},
"layer": [
{"mark": {"type": "bar"},
"encoding": {
"y": {"field": "y0", "type": "quantitative", "scale": {"domain": [-0.05, 1.05], "nice": false, "zero": false},
"axis": {"title": "Frequency", "offset": -8, "values": [0, 0.25, 0.5, 0.75, 1], "format": ".0%", "labelFontSize": 5, "labelColor": "#4d4d4d", "ticks": false, "domain": false, "gridColor": "#ebebeb", "gridWidth": 0.6, "labelPadding": 2, "titleFontSize": 6.5, "titleFontWeight": "normal", "titlePadding": 3}},
"y2": {"field": "y1"},
"color": {"field": "size", "type": "nominal", "scale": {"domain": ["> 2 cells","2 cells","1 cell"], "range": ["#F8766D","#00BA38","#619CFF"]},
"legend": {"orient": "none", "legendX": 318, "legendY": 65, "title": "Clone size", "titleFontSize": 6.5, "titleFontWeight": "normal", "titleColor": "#000", "labelFontSize": 4.8, "labelColor": "#000", "symbolType": "square", "symbolSize": 110, "symbolStrokeWidth": 0, "symbolOpacity": 1, "rowPadding": 0, "titlePadding": 4, "labelOffset": 3}}
}},
{"transform": [{"filter": "datum.freq >= 0.03"}],
"mark": {"type": "text", "fontSize": 6.5, "color": "#000"},
"encoding": {
"y": {"field": "ymid", "type": "quantitative", "scale": {"domain": [-0.05, 1.05], "nice": false, "zero": false}},
"text": {"field": "freq", "type": "quantitative", "format": ".1~%"}
}}
]
},
{
"width": 557, "height": 384,
"title": {"text": "C", "anchor": "start", "frame": "bounds", "fontSize": 17, "dx": -3, "offset": -12},
"resolve": {"scale": {"x": "independent", "y": "independent"}},
"layer": [
{
"data": {"name": "heat"},
"transform": [{"fold": ["Islets Recently activated","Islets Effector","Islets Progenitor","Islets Anergic","Spleen Anergic","Islets Bystander","Spleen Central memory","Spleen Exhausted","Spleen AY036118+","Spleen Cx3cr1+ Effector","Spleen Effector memory"], "as": ["cell", "v"]}],
"mark": {"type": "rect"},
"encoding": {
"x": {"field": "cell", "type": "nominal", "sort": ["Islets Recently activated","Islets Effector","Islets Progenitor","Islets Anergic","Spleen Anergic","Islets Bystander","Spleen Central memory","Spleen Exhausted","Spleen AY036118+","Spleen Cx3cr1+ Effector","Spleen Effector memory"], "scale": {"paddingInner": 0, "paddingOuter": 0.3464, "align": 1},
"axis": {"title": null, "orient": "bottom", "labelAngle": -45, "labelAlign": "right", "labelBaseline": "top", "labelFontSize": 5.6, "labelColor": "#000", "ticks": false, "domain": false, "labelPadding": 3, "labelOverlap": false}},
"y": {"field": "g", "type": "nominal", "sort": ["Tead1","Hoxb13","Mafb","Otx2","Meis1","Pou5f1","Bhlhe40","Nr5a1","Arid3a","Hnf4g","Hnf4a","Tfap2c","Gli2","Atf3","Hbp1","Srf","Stat4","Irf1","Rel","Creb1","Jun","Atf2","Foxl2","Nfkb1","Rela","Fosl2","Tcf7l2","Crem","Tead2","Arid2","Relb","E2f4","Rreb1","Myc","Nr2c2","Sp1","Nfe2l2","Nr1h2","Foxk2","Atf6","Foxo3","Ets1","Trp53","Creb3","Hif1a","Zeb2","Zfp263","Stat6","Elk1","Stat3"],
"axis": {"title": null, "orient": "right", "labelFontSize": 6.8, "labelColor": "#000", "ticks": false, "domain": false, "labelPadding": 3}},
"color": {"field": "v", "type": "quantitative", "scale": {"domain": [-2.8, 0, 2.84], "range": ["#000080", "#ffffff", "#ff0000"], "interpolate": "rgb"},
"legend": {"orient": "none", "legendX": 585, "legendY": 0, "title": null, "direction": "vertical", "gradientLength": 107, "gradientThickness": 7, "gradientStrokeWidth": 0, "values": [-2, -1, 0, 1, 2], "labelFontSize": 6.8, "labelColor": "#000", "labelOffset": 3}}
}
},
{"data": {"name": "coldend"}, "mark": {"type": "rule", "color": "#555", "strokeWidth": 0.8},
"encoding": {"x": {"field": "xl", "type": "quantitative", "scale": {"domain": [-1.1927, 10.5], "nice": false, "zero": false}, "axis": null}, "x2": {"field": "xr"},
"y": {"field": "h", "type": "quantitative", "scale": {"domain": [-9.143, 0], "nice": false, "zero": false}, "axis": null}}},
{"data": {"name": "coldend"}, "mark": {"type": "rule", "color": "#555", "strokeWidth": 0.8},
"encoding": {"x": {"field": "xl", "type": "quantitative", "scale": {"domain": [-1.1927, 10.5], "nice": false, "zero": false}, "axis": null},
"y": {"field": "hl", "type": "quantitative", "scale": {"domain": [-9.143, 0], "nice": false, "zero": false}, "axis": null}, "y2": {"field": "h"}}},
{"data": {"name": "coldend"}, "mark": {"type": "rule", "color": "#555", "strokeWidth": 0.8},
"encoding": {"x": {"field": "xr", "type": "quantitative", "scale": {"domain": [-1.1927, 10.5], "nice": false, "zero": false}, "axis": null},
"y": {"field": "hr", "type": "quantitative", "scale": {"domain": [-9.143, 0], "nice": false, "zero": false}, "axis": null}, "y2": {"field": "h"}}},
{"data": {"name": "rowdend"}, "mark": {"type": "rule", "color": "#555", "strokeWidth": 0.8},
"encoding": {"x": {"field": "h", "type": "quantitative", "scale": {"domain": [0.66, -10.48], "nice": false, "zero": false}, "axis": null},
"y": {"field": "yl", "type": "quantitative", "scale": {"domain": [49.5, -0.5], "nice": false, "zero": false}, "axis": null}, "y2": {"field": "yr"}}},
{"data": {"name": "rowdend"}, "mark": {"type": "rule", "color": "#555", "strokeWidth": 0.8},
"encoding": {"x": {"field": "hl", "type": "quantitative", "scale": {"domain": [0.66, -10.48], "nice": false, "zero": false}, "axis": null}, "x2": {"field": "h"},
"y": {"field": "yl", "type": "quantitative", "scale": {"domain": [49.5, -0.5], "nice": false, "zero": false}, "axis": null}}},
{"data": {"name": "rowdend"}, "mark": {"type": "rule", "color": "#555", "strokeWidth": 0.8},
"encoding": {"x": {"field": "hr", "type": "quantitative", "scale": {"domain": [0.66, -10.48], "nice": false, "zero": false}, "axis": null}, "x2": {"field": "h"},
"y": {"field": "yr", "type": "quantitative", "scale": {"domain": [49.5, -0.5], "nice": false, "zero": false}, "axis": null}}}
]
}
]
}
